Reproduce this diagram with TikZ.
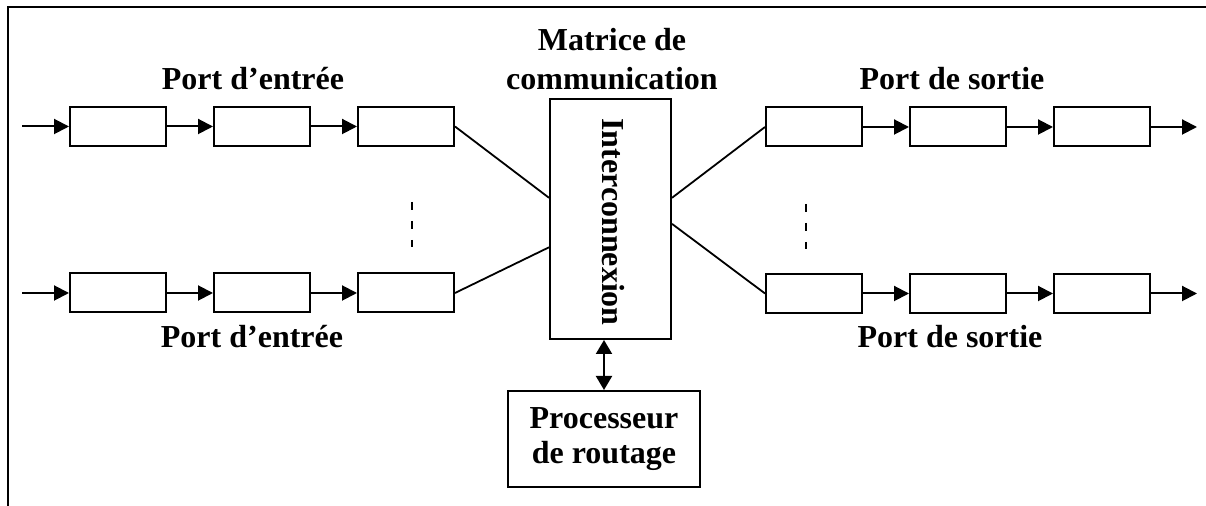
\documentclass[tikz,border=0pt]{standalone}
\usepackage{fontspec}
\setmainfont{Liberation Serif}
\usetikzlibrary{arrows.meta,positioning,calc}
\tikzstyle{buffer} = [rectangle, draw=black, line width=1pt, minimum width=48pt, minimum height=19.5pt, inner sep=0pt]
\tikzstyle{arrow} = [line width=1pt, -{Triangle[length=7.5pt,width=7.5pt]}]
\tikzstyle{link} = [line width=0.9pt]
\tikzstyle{portlabel} = [font=\fontsize{16}{19.5}\selectfont\bfseries, inner sep=0pt, align=center]

\begin{document}
\begin{tikzpicture}[x=0.5pt, y=-0.5pt]
    \useasboundingbox (0,0) rectangle (1206,506);
    % cadre
    \draw[line width=1pt] (7.5,506) -- (7.5,7) -- (1206,7);

    % ports d'entree
    \node[buffer] (inA1) at (118,126.5) {};
    \node[buffer, right=23pt of inA1] (inA2) {};
    \node[buffer, right=23pt of inA2] (inA3) {};
    \node[buffer] (inB1) at (118,293) {};
    \node[buffer, right=23pt of inB1] (inB2) {};
    \node[buffer, right=23pt of inB2] (inB3) {};

    % matrice
    \node[draw, line width=1pt, minimum width=60.5pt, minimum height=120pt] (mat) at (610.5,219) {};
    \node[portlabel, rotate=-90] (inter) at (613,222) {Interconnexion};
    \node[portlabel] (matlbl) at (612,59) {Matrice de\\communication};

    % ports de sortie
    \node[buffer] (outA1) at (814,127) {};
    \node[buffer, right=23pt of outA1] (outA2) {};
    \node[buffer, right=23pt of outA2] (outA3) {};
    \node[buffer] (outB1) at (814,293.5) {};
    \node[buffer, right=23pt of outB1] (outB2) {};
    \node[buffer, right=23pt of outB2] (outB3) {};

    % processeur
    \node[draw, line width=1pt, minimum width=96pt, minimum height=48pt, portlabel, font=\fontsize{16}{17.5}\selectfont\bfseries] (proc) at (604,439) {Processeur\\de routage};

    % libelles
    \node[portlabel, anchor=base] (inAlbl) at (253,90) {Port d’entrée};
    \node[portlabel, anchor=base] (inBlbl) at (252,348) {Port d’entrée};
    \node[portlabel, anchor=base] (outAlbl) at (952,90) {Port de sortie};
    \node[portlabel, anchor=base] (outBlbl) at (950,348) {Port de sortie};

    % fleches
    \coordinate (srcA) at (22,126.5);
    \coordinate (srcB) at (22,293);
    \coordinate (dstA) at (1197,127);
    \coordinate (dstB) at (1197,293.5);
    \draw[arrow] (srcA) -- (inA1);
    \draw[arrow] (inA1) -- (inA2);
    \draw[arrow] (inA2) -- (inA3);
    \draw[arrow] (srcB) -- (inB1);
    \draw[arrow] (inB1) -- (inB2);
    \draw[arrow] (inB2) -- (inB3);
    \draw[arrow] (outA1) -- (outA2);
    \draw[arrow] (outA2) -- (outA3);
    \draw[arrow] (outA3) -- (dstA);
    \draw[arrow] (outB1) -- (outB2);
    \draw[arrow] (outB2) -- (outB3);
    \draw[arrow] (outB3) -- (dstB);

    % liaisons vers la matrice
    \draw[link] (inA3.east) -- ($(mat.north west)!.4125!(mat.south west)$);
    \draw[link] (inB3.east) -- ($(mat.north west)!.617!(mat.south west)$);
    \draw[link] ($(mat.north east)!.4125!(mat.south east)$) -- (outA1.west);
    \draw[link] ($(mat.north east)!.52!(mat.south east)$) -- (outB1.west);
    \draw[line width=1pt, {Triangle[length=7pt,width=8pt]}-{Triangle[length=7pt,width=8pt]}] (proc.north |- mat.south) -- (proc.north);

    % pointilles
    \coordinate (dotsL1) at (412,202);
    \coordinate (dotsL2) at (412,247);
    \coordinate (dotsR1) at (806,204);
    \coordinate (dotsR2) at (806,249);
    \draw[line width=1pt, dash pattern=on 4pt off 5.5pt] (dotsL1) -- (dotsL2);
    \draw[line width=1pt, dash pattern=on 4pt off 5.5pt] (dotsR1) -- (dotsR2);
\end{tikzpicture}
\end{document}
